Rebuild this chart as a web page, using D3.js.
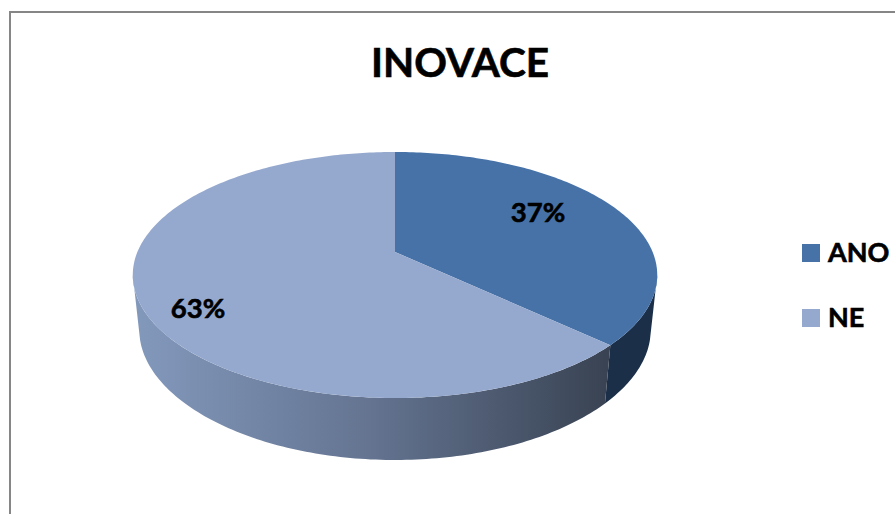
<!DOCTYPE html>
<html>
<head>
<meta charset="utf-8">
<script src="https://cdn.jsdelivr.net/npm/d3@7"></script>
<style>
html, body { margin: 0; padding: 0; background: #fff; overflow: hidden; }
text { font-family: Lato, "Open Sans", sans-serif; font-weight: bold; fill: #000; stroke: #000; stroke-width: 0.6px; }
</style>
</head>
<body>
<svg id="chart" width="895" height="514"></svg>
<script>
var title = "INOVACE";
var categories = ["ANO", "NE"];
var values = [37, 63];
var topColors = ["#4672A8", "#95A9CF"];

var svg = d3.select("#chart");
var defs = svg.append("defs");

// frame
svg.append("path")
    .attr("d", "M10,514V12H895")
    .attr("fill", "none")
    .attr("stroke", "#868686")
    .attr("stroke-width", 2);

svg.append("text")
    .attr("x", 460).attr("y", 77)
    .attr("text-anchor", "middle")
    .style("font-size", "40.5px")
    .text(title);

// the pie is tilted with some perspective, so map the unit circle by hand
var cx = 395, persp = -0.187;
function topPlane(a) {
    var u = Math.sin(a), v = -Math.cos(a), w = 1 + persp * v;
    return [cx + 257.6 * u / w, 252 + 118.7 * v / w];
}
function bottomPlane(a) {
    var v = -Math.cos(a), p = topPlane(a);
    return [cx + (p[0] - cx) * 0.975, p[1] + 55 + 7 * v * v];
}
function edge(plane, a0, a1) {
    var n = Math.max(2, Math.ceil(Math.abs(a1 - a0) * 60));
    return d3.range(n + 1).map(function(i) {
        return plane(a0 + (a1 - a0) * i / n);
    });
}

var arcs = d3.pie().sort(null).value(function(d) { return d; })(values);
var line = d3.line();

var grad = defs.append("linearGradient")
    .attr("id", "wallNe")
    .attr("gradientUnits", "userSpaceOnUse")
    .attr("x1", 133).attr("x2", 606).attr("y1", 0).attr("y2", 0);
grad.append("stop").attr("offset", "0").attr("stop-color", "#8399BC");
grad.append("stop").attr("offset", "0.5").attr("stop-color", "#647491");
grad.append("stop").attr("offset", "1").attr("stop-color", "#394353");

var wallFills = ["#1C2F49", "url(#wallNe)"];

// silhouette angles, the outline of the wall leaves the top and bottom rims here
var topSide = Math.acos(persp), bottomSide = Math.acos(-0.26);

// outer walls, only the part facing the viewer
arcs.forEach(function(d, i) {
    var t0 = Math.max(d.startAngle, topSide);
    var t1 = Math.min(d.endAngle, 2 * Math.PI - topSide);
    var b0 = Math.max(d.startAngle, bottomSide);
    var b1 = Math.min(d.endAngle, 2 * Math.PI - bottomSide);
    var pts = edge(topPlane, t0, t1).concat(edge(bottomPlane, b1, b0));
    svg.append("path")
        .attr("d", line(pts) + "Z")
        .attr("fill", wallFills[i]);
});

// top faces
arcs.forEach(function(d, i) {
    var pts = [[cx, 252]].concat(edge(topPlane, d.startAngle, d.endAngle));
    svg.append("path")
        .attr("d", line(pts) + "Z")
        .attr("fill", topColors[i]);
});

// data labels
var labelPos = [[538, 222], [198, 318]];
arcs.forEach(function(d, i) {
    svg.append("text")
        .attr("x", labelPos[i][0]).attr("y", labelPos[i][1])
        .attr("text-anchor", "middle")
        .style("font-size", "27.5px")
        .text(d.data + "%");
});

// legend
var legendY = d3.scalePoint().domain(categories).range([253, 318]);
categories.forEach(function(c, i) {
    svg.append("rect")
        .attr("x", 802).attr("y", legendY(c) - 9)
        .attr("width", 18).attr("height", 18)
        .attr("fill", topColors[i]);
    svg.append("text")
        .attr("x", 828).attr("y", legendY(c) + 9)
        .style("font-size", "27px")
        .text(c);
});
</script>
</body>
</html>
